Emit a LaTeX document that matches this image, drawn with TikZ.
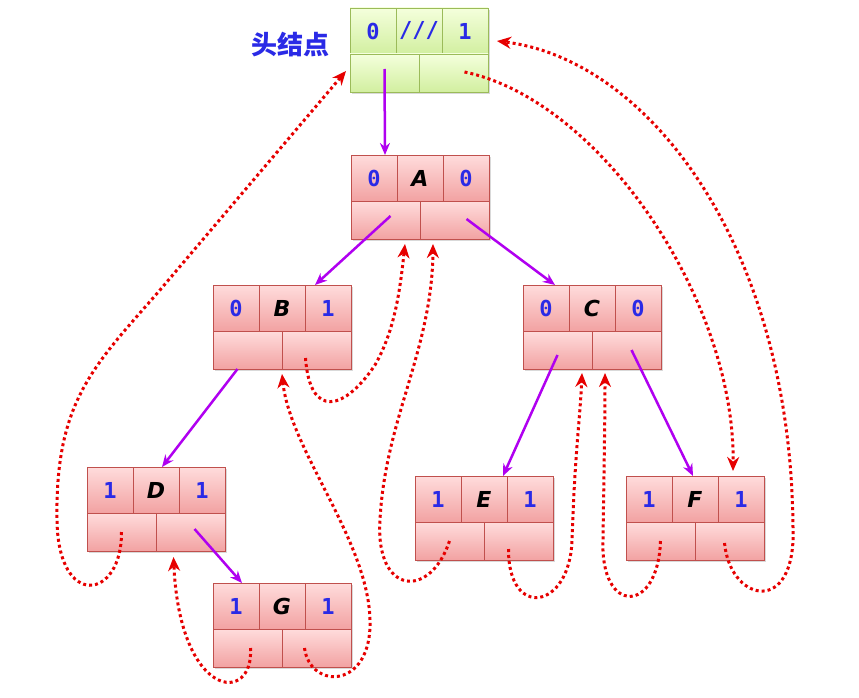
\documentclass[tikz,border=0pt]{standalone}
\usepackage{fontspec}
\setmonofont{DejaVu Sans Mono}
\newfontfamily\letterfont{DejaVu Sans}
\newfontfamily\cjkfont{Noto Sans CJK SC}
\usetikzlibrary{arrows.meta,positioning,shadows}
\definecolor{childline}{HTML}{B000F0}
\definecolor{threadline}{HTML}{E60000}
\definecolor{tagblue}{HTML}{2A2AE6}
\definecolor{pinkline}{HTML}{C0504D}
\definecolor{pinktop}{HTML}{FFDCDC}
\definecolor{pinkbot}{HTML}{F2A2A2}
\definecolor{greenline}{HTML}{9BBB59}
\definecolor{greentop}{HTML}{F4FFDC}
\definecolor{greenbot}{HTML}{D2EFA0}

\newcommand{\tagtext}[1]{{\ttfamily\bfseries\color{tagblue}#1}}
\newcommand{\lettertext}[1]{{\letterfont\bfseries\itshape #1}}
% one record: style, name, top-left x, y, ltag, data, rtag
\newcommand{\record}[7]{%
  \node[cell,#1,anchor=north west] (#2-l) at (#3,#4) {\tagtext{#5}};
  \node[cell,#1,right=0pt of #2-l] (#2-d) {#6};
  \node[cell,#1,right=0pt of #2-d] (#2-r) {\tagtext{#7}};
  \node[cell,#1,wide,anchor=north west] (#2-lc) at (#2-l.south west) {};
  \node[cell,#1,wide,right=0pt of #2-lc] (#2-rc) {};
}

\begin{document}
\begin{tikzpicture}[x=1pt,y=-1pt,
cell/.style={outer sep=0pt,inner sep=0pt,line width=0.8pt,minimum width=46pt,minimum height=46pt,
  font=\fontsize{22}{26}\selectfont,drop shadow={opacity=0.3,shadow xshift=2pt,shadow yshift=-2pt}},
wide/.style={minimum width=69pt,minimum height=38pt},
pinkcell/.style={draw=pinkline,top color=pinktop,bottom color=pinkbot},
greencell/.style={draw=greenline,top color=greentop,bottom color=greenbot},
child/.style={-{Stealth[length=12pt,width=10pt]},line width=2.5pt,childline},
thread/.style={-{Stealth[length=14pt,width=12pt]},line width=3pt,dash pattern=on 3pt off 3pt,threadline}]
\useasboundingbox (0,0) rectangle (859,698);
\record{greencell}{head}{350}{8}{0}{\tagtext{///}}{1}
\node[font=\cjkfont\bfseries\fontsize{26}{30}\selectfont,text=tagblue] (title) at (290,45) {头结点};
\record{pinkcell}{A}{351}{155}{0}{\lettertext{A}}{0}
\record{pinkcell}{B}{213}{285}{0}{\lettertext{B}}{1}
\record{pinkcell}{C}{523}{285}{0}{\lettertext{C}}{0}
\record{pinkcell}{D}{87}{467}{1}{\lettertext{D}}{1}
\record{pinkcell}{E}{415}{476}{1}{\lettertext{E}}{1}
\record{pinkcell}{F}{626}{476}{1}{\lettertext{F}}{1}
\record{pinkcell}{G}{213}{583}{1}{\lettertext{G}}{1}

\draw[child] ([yshift=4pt]head-lc.center) -- ([xshift=11pt]A-l.north);
\draw[child] ([shift={(5pt,4pt)}]A-lc.center) -- ([xshift=10pt]B-r.north west);
\draw[child] ([xshift=12pt,yshift=1pt]A-rc.center) -- ([xshift=-14pt]C-l.north east);
\draw[child] ([xshift=-10pt]B-lc.south) -- ([xshift=6pt]D-d.north);
\draw[child] ([shift={(4pt,3pt)}]D-rc.center) -- ([xshift=6pt]G-l.north);
\draw[child] ([yshift=-5pt]C-lc.center) -- ([xshift=-4pt]E-d.north east);
\draw[child] ([xshift=5pt]C-rc.center) -- ([xshift=-2pt]F-d.north);

\draw[thread] ([xshift=11pt,yshift=1pt]head-rc.center) .. controls (600,100) and (735,300) .. ([xshift=-8pt,yshift=5pt]F-r.north);
\draw[thread] ([xshift=-5pt,yshift=-2pt]F-rc.center) .. controls (730,600) and (790,615) .. (793,540)
  .. controls (795,250) and (650,60) .. ([xshift=9pt,yshift=-10pt]head-r.east);
\draw[thread] (D-lc.center) .. controls (122,600) and (58,610) .. (57,520)
  .. controls (55,400) and (95,365) .. (160,290) -- ([xshift=-4pt,yshift=2pt]head-lc.west);
\draw[thread] ([xshift=3pt]G-lc.center) .. controls (254,705) and (180,700) .. ([xshift=-17pt,yshift=-6pt]D-rc.south);
\draw[thread] ([xshift=-12pt]G-rc.center) .. controls (310,690) and (372,690) .. (370,620)
  .. controls (368,540) and (290,450) .. ([yshift=-5pt]B-lc.south east);
\draw[thread] ([xshift=-11pt,yshift=-8pt]B-rc.center) .. controls (310,420) and (345,410) .. (375,365)
  .. controls (395,330) and (400,290) .. ([xshift=-15pt,yshift=-5pt]A-lc.south east);
\draw[thread] (E-lc.center) .. controls (430,600) and (375,595) .. (380,520)
  .. controls (385,420) and (432,350) .. ([xshift=13pt,yshift=-5pt]A-rc.south west);
\draw[thread] ([xshift=-10pt,yshift=-8pt]E-rc.center) .. controls (508,620) and (570,610) .. (572,540)
  .. controls (575,450) and (580,420) .. ([xshift=-10pt,yshift=-4pt]C-lc.south east);
\draw[thread] (F-lc.center) .. controls (658,615) and (600,615) .. (603,540)
  .. controls (604,470) and (605,420) .. ([xshift=13pt,yshift=-4pt]C-rc.south west);
\end{tikzpicture}
\end{document}
